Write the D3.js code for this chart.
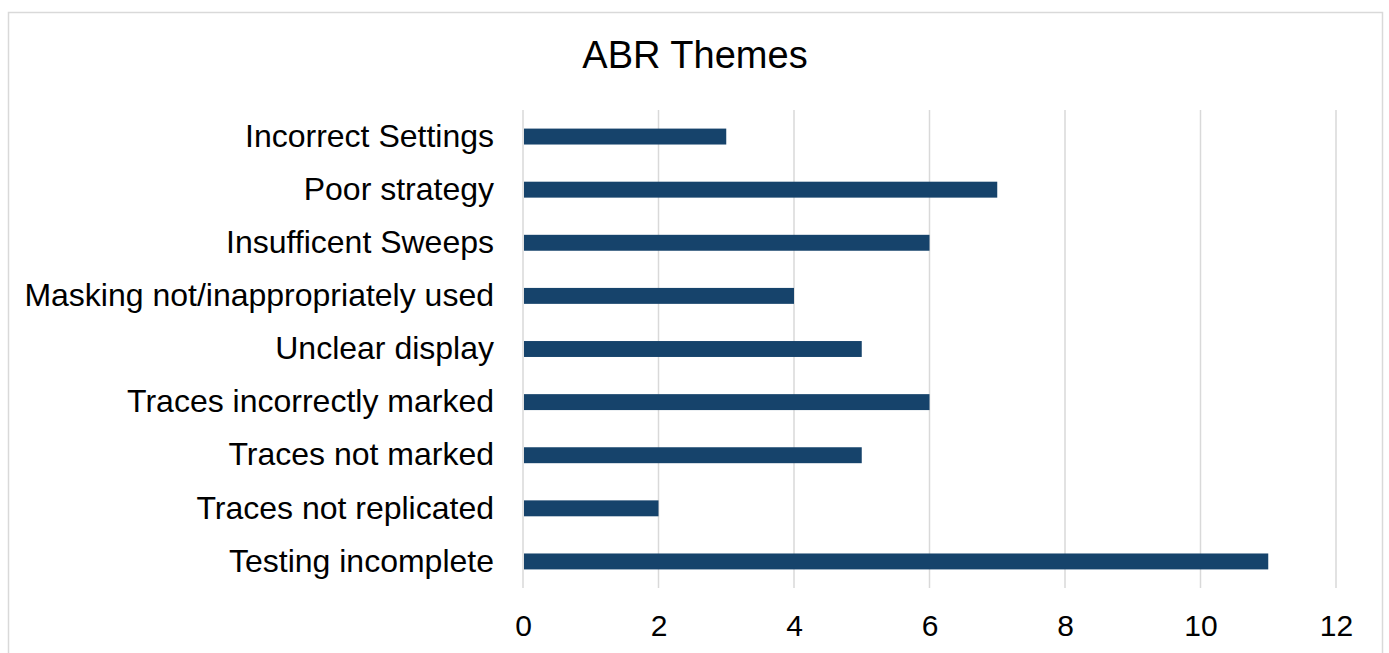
<!DOCTYPE html>
<html>
<head>
<meta charset="utf-8">
<script src="https://cdn.jsdelivr.net/npm/d3@7"></script>
<style>
  body { margin: 0; background: #fff; }
  text { font-family: "Liberation Sans", Arial, sans-serif; fill: #000; }
</style>
</head>
<body>
<script>
var categories = ["Incorrect Settings", "Poor strategy", "Insufficent Sweeps", "Masking not/inappropriately used",
  "Unclear display", "Traces incorrectly marked", "Traces not marked", "Traces not replicated", "Testing incomplete"];
var counts = [3, 7, 6, 4, 5, 6, 5, 2, 11];
var xTicks = [0, 2, 4, 6, 8, 10, 12];

var width = 1389, height = 653;
var svg = d3.select("body").append("svg").attr("width", width).attr("height", height);

// chart frame
svg.append("rect").attr("x", 8.5).attr("y", 12.5).attr("width", 1374).attr("height", 660)
  .attr("fill", "#fff").attr("stroke", "#d9d9d9").attr("stroke-width", 1.5);

svg.append("text").attr("x", 695).attr("y", 68).attr("text-anchor", "middle")
  .style("font-size", "38px").text("ABR Themes");

var x = d3.scaleLinear().domain([0, 12]).range([523, 1336]);
var y = d3.scaleBand().domain(categories).range([110, 588]).paddingInner(0.7).paddingOuter(0.35);

// gridlines
svg.append("g").selectAll("line").data(xTicks).enter().append("line")
  .attr("x1", function(d) { return x(d); }).attr("x2", function(d) { return x(d); })
  .attr("y1", 110).attr("y2", 588)
  .attr("stroke", "#d9d9d9").attr("stroke-width", 1.5);

svg.append("g").selectAll("rect").data(counts).enter().append("rect")
  .attr("x", x(0) + 1)
  .attr("y", function(d, i) { return y(categories[i]); })
  .attr("width", function(d) { return x(d) - x(0) - 1; })
  .attr("height", y.bandwidth())
  .attr("fill", "#16436b");

var xAxis = svg.append("g").attr("transform", "translate(0,588)")
  .call(d3.axisBottom(x).tickValues(xTicks).tickSize(0).tickPadding(27));
xAxis.select(".domain").remove();
xAxis.selectAll("text").style("font-size", "30px").attr("fill", "#000");

var yAxis = svg.append("g").attr("transform", "translate(523,0)")
  .call(d3.axisLeft(y).tickSize(0).tickPadding(29));
yAxis.select(".domain").remove();
yAxis.selectAll("text").style("font-size", "32px").attr("fill", "#000");
</script>
</body>
</html>
